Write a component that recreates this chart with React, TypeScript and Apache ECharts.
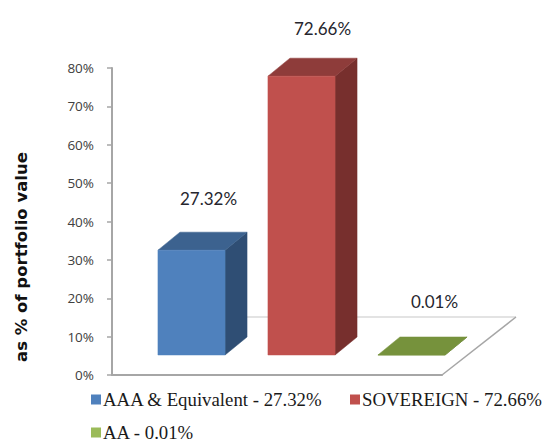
import React, { useEffect, useRef } from "react";
import * as echarts from "echarts";

const categories = ["AAA & Equivalent", "SOVEREIGN", "AA"];
const values = [27.32, 72.66, 0.01];
const legendNames = ["AAA & Equivalent - 27.32%", "SOVEREIGN - 72.66%", "AA - 0.01%"];
const valueLabels = ["27.32%", "72.66%", "0.01%"];
const frontColors = ["#4F81BD", "#C0504D", "#7A9440"];
const topColors = ["#3C628F", "#8E3C3A", "#76923C"];
const sideColors = ["#2F4E74", "#772F2D", "#5E7530"];
const legendColors = ["#4F81BD", "#C0504D", "#9BBB59"];
const legendLefts = [91, 350, 91];
const legendTops = [390, 390, 423];
const labelNudgeX = [17, 21, 23];
const labelNudgeY = [-52, -48, -53];

const LIFT = 20; // floor gap between the axis and the front of the bars
const SHIFT = 24.5; // perspective shift of the bars to the right of their category
const DEPTH_X = 22;
const DEPTH_Y = 18;
const BAR_SHARE = 0.61;

function barRenderer(index: number) {
  return (_params: any, api: any) => {
    const zero = api.coord([api.value(0), 0]);
    const top = api.coord([api.value(0), api.value(1)]);
    const width = api.size([1, 0])[0] * BAR_SHARE;
    const cx = zero[0] + SHIFT;
    const x0 = cx - width / 2;
    const x1 = cx + width / 2;
    const yb = zero[1] - LIFT;
    const yt = top[1] - LIFT;
    const poly = (points: number[][], fill: string) => ({
      type: "polygon",
      shape: { points },
      style: { fill, stroke: fill, lineWidth: 0.5 },
    });
    return {
      type: "group",
      children: [
        poly(
          [[x1, yt], [x1 + DEPTH_X, yt - DEPTH_Y], [x1 + DEPTH_X, yb - DEPTH_Y], [x1, yb]],
          sideColors[index]
        ),
        poly(
          [[x0, yt], [x0 + DEPTH_X, yt - DEPTH_Y], [x1 + DEPTH_X, yt - DEPTH_Y], [x1, yt]],
          topColors[index]
        ),
        poly([[x0, yt], [x1, yt], [x1, yb], [x0, yb]], frontColors[index]),
        {
          type: "text",
          style: {
            x: cx + labelNudgeX[index],
            y: yt + labelNudgeY[index],
            text: valueLabels[index],
            fill: "#26262E",
            font: '17px "Lato"',
            align: "center",
            verticalAlign: "middle",
          },
        },
      ],
    };
  };
}

function floorRenderer(_params: any, api: any) {
  const origin = api.coord([0, 0]);
  const size = api.size([1, 0])[0];
  const xRight = origin[0] - size / 2 + size * categories.length;
  const xLeft = origin[0] - size / 2;
  const y = origin[1];
  const backY = y - 58;
  const line = (x1: number, y1: number, x2: number, y2: number, stroke: string, lineWidth: number) => ({
    type: "line",
    shape: { x1, y1, x2, y2 },
    style: { stroke, lineWidth },
  });
  return {
    type: "group",
    children: [
      line(xLeft + 74, backY, xRight + 74, backY, "#DADADA", 1.5),
      line(xRight, y, xRight + 74, backY, "#A6A6A6", 1.5),
    ],
  };
}

export default function App() {
  const ref = useRef<HTMLDivElement>(null);
  useEffect(() => {
    document.body.style.margin = "0";
    const chart = echarts.init(ref.current!, undefined, { renderer: "svg" });
    chart.setOption({
      animation: false,
      backgroundColor: "#FFFFFF",
      grid: { left: 112, top: 68, width: 330, height: 307 },
      graphic: [
        {
          type: "text",
          x: 21,
          y: 257,
          rotation: Math.PI / 2,
          style: {
            text: "as % of portfolio value",
            font: 'bold 16.5px "DejaVu Sans"',
            fill: "#111111",
            align: "center",
            verticalAlign: "middle",
          },
        },
      ],
      legend: legendNames.map((name, i) => ({
        left: legendLefts[i],
        top: legendTops[i],
        padding: 0,
        data: [name],
        itemWidth: 10,
        itemHeight: 10,
        icon: "rect",
        textStyle: {
          fontFamily: '"Liberation Serif"',
          fontSize: 18.8,
          lineHeight: 16,
          color: "#1A1A1A",
          padding: [0, 0, 0, -3],
        },
      })),
      xAxis: {
        type: "category",
        data: categories,
        axisLine: { lineStyle: { color: "#A6A6A6", width: 2 } },
        axisTick: { show: false },
        axisLabel: { show: false },
      },
      yAxis: {
        type: "value",
        min: 0,
        max: 80,
        interval: 10,
        axisLine: { show: true, lineStyle: { color: "#A6A6A6", width: 2 } },
        axisTick: { show: true, length: 5, lineStyle: { color: "#A6A6A6", width: 1.5 } },
        axisLabel: {
          formatter: "{value}%",
          fontFamily: '"Open Sans"',
          fontSize: 13.5,
          color: "#404040",
          margin: 18,
        },
        splitLine: { show: false },
      },
      series: [
        {
          type: "custom",
          name: "floor",
          silent: true,
          z: 1,
          clip: false,
          data: [[0, 0]],
          renderItem: floorRenderer,
        },
        ...legendNames.map((name, i) => ({
          type: "custom",
          name,
          z: 2 + i,
          clip: false,
          itemStyle: { color: legendColors[i] },
          data: [[i, values[i]]],
          encode: { x: 0, y: 1 },
          renderItem: barRenderer(i),
        })),
      ],
    });
    return () => chart.dispose();
  }, []);
  return <div ref={ref} style={{ width: 545, height: 439 }} />;
}
